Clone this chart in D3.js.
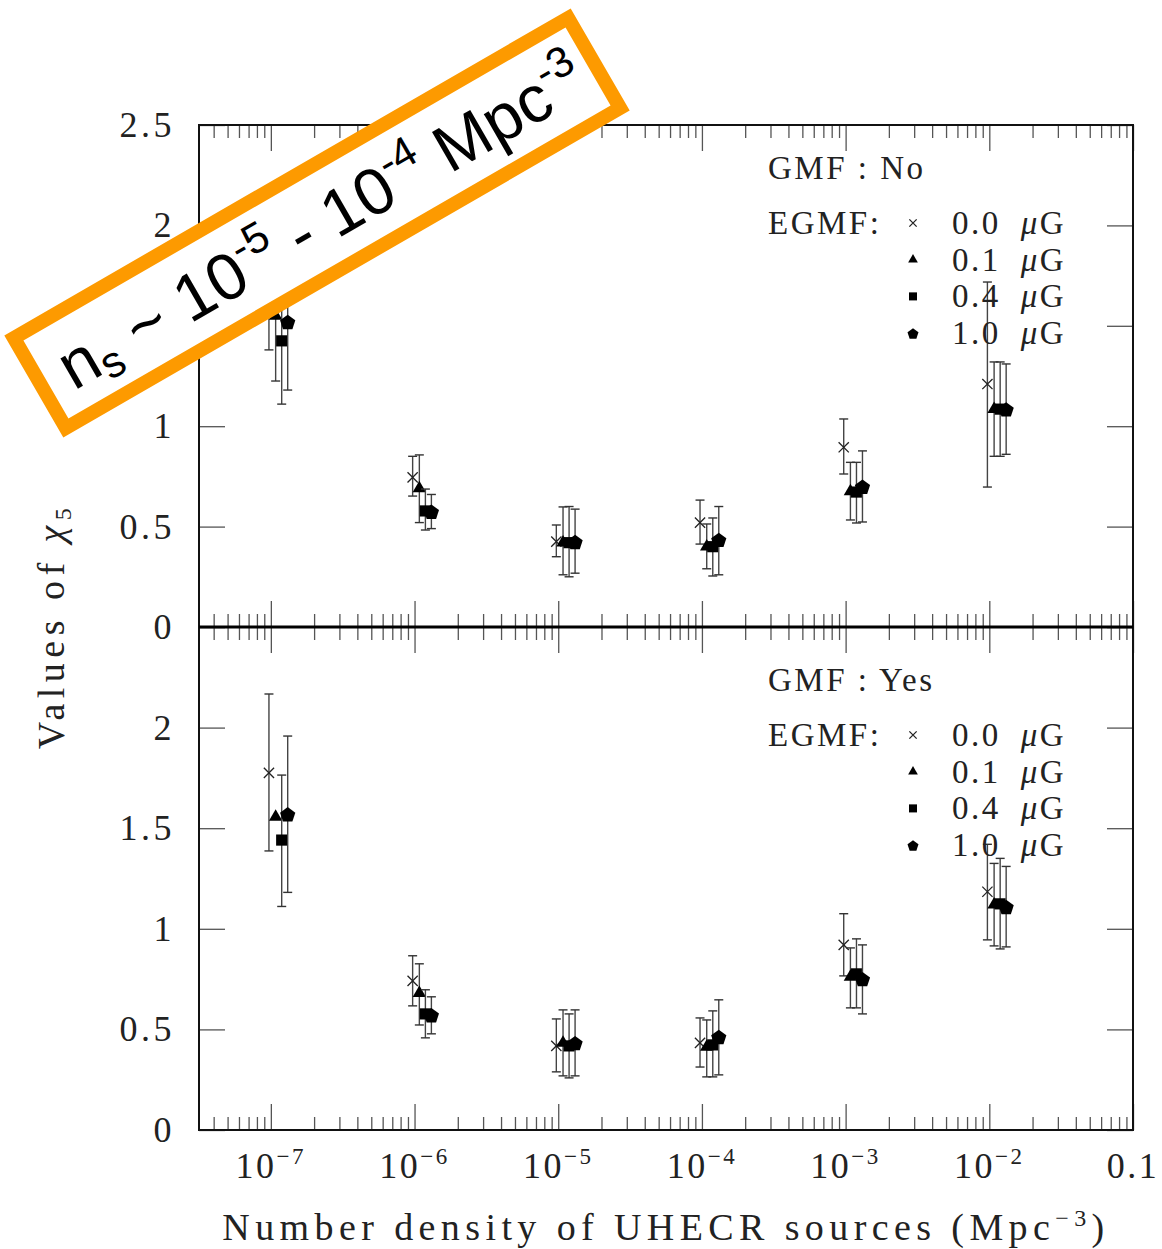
<!DOCTYPE html>
<html>
<head>
<meta charset="utf-8">
<script src="https://cdn.jsdelivr.net/npm/d3@7"></script>
<style>
  html, body { margin: 0; padding: 0; background: #fff; }
  svg { display: block; }
  .serif { font-family: "Liberation Serif", "DejaVu Serif", serif; fill: #222; }
</style>
</head>
<body>
<svg id="chart" width="1162" height="1249"></svg>
<script>
// Source densities (Mpc^-3) for each EGMF series, slightly staggered within a decade
const densB0 = [9.7e-8, 9.7e-7, 9.7e-6, 9.7e-5, 9.7e-4, 9.7e-3];
const densB1 = [1.08e-7, 1.08e-6, 1.08e-5, 1.08e-4, 1.08e-3, 1.08e-2];
const densB4 = [1.19e-7, 1.19e-6, 1.19e-5, 1.19e-4, 1.19e-3, 1.19e-2];
const densB10 = [1.31e-7, 1.31e-6, 1.31e-5, 1.31e-4, 1.31e-3, 1.31e-2];

// GMF: No  — chi_5 values with lower / upper error limits
const noGmfB0 = [1.76, 0.745, 0.425, 0.52, 0.895, 1.21];
const noGmfB0Lo = [1.38, 0.652, 0.35, 0.413, 0.762, 0.697];
const noGmfB0Hi = [2.14, 0.85, 0.508, 0.632, 1.036, 1.718];
const noGmfB1 = [1.55, 0.69, 0.42, 0.40, 0.675, 1.085];
const noGmfB1Lo = [1.225, 0.52, 0.26, 0.29, 0.533, 0.85];
const noGmfB1Hi = [1.875, 0.857, 0.598, 0.513, 0.82, 1.32];
const noGmfB4 = [1.425, 0.578, 0.42, 0.40, 0.672, 1.085];
const noGmfB4Lo = [1.11, 0.483, 0.25, 0.254, 0.518, 0.85];
const noGmfB4Hi = [1.74, 0.687, 0.60, 0.543, 0.82, 1.32];
const noGmfB10 = [1.52, 0.575, 0.425, 0.435, 0.70, 1.085];
const noGmfB10Lo = [1.18, 0.49, 0.268, 0.26, 0.523, 0.86];
const noGmfB10Hi = [1.86, 0.66, 0.587, 0.60, 0.877, 1.31];

// GMF: Yes
const gmfB0 = [1.775, 0.741, 0.418, 0.433, 0.92, 1.184];
const gmfB0Lo = [1.387, 0.617, 0.289, 0.313, 0.766, 0.945];
const gmfB0Hi = [2.167, 0.866, 0.552, 0.557, 1.075, 1.42];
const gmfB1 = [1.556, 0.68, 0.433, 0.413, 0.761, 1.12];
const gmfB1Lo = [null, 0.522, 0.269, 0.264, 0.607, 0.915];
const gmfB1Hi = [null, 0.826, 0.597, 0.547, 0.905, 1.325];
const gmfB4 = [1.441, 0.577, 0.418, 0.423, 0.776, 1.124];
const gmfB4Lo = [1.111, 0.458, 0.259, 0.264, 0.607, 0.90];
const gmfB4Hi = [1.764, 0.697, 0.577, 0.592, 0.95, 1.35];
const gmfB10 = [1.570, 0.572, 0.433, 0.463, 0.751, 1.11];
const gmfB10Lo = [1.181, 0.478, 0.269, 0.274, 0.577, 0.91];
const gmfB10Hi = [1.958, 0.662, 0.597, 0.647, 0.92, 1.31];

// Axis ticks and labels
const xMajorTicks = [1e-7, 1e-6, 1e-5, 1e-4, 1e-3, 1e-2, 1e-1];
const xTickLabels = [["10", "−7"], ["10", "−6"], ["10", "−5"], ["10", "−4"], ["10", "−3"], ["10", "−2"], ["0.1", ""]];
const yTicks = [0, 0.5, 1, 1.5, 2, 2.5];
const yTopLabels = ["0", "0.5", "1", "1.5", "2", "2.5"];
const yBotLabels = ["0", "0.5", "1", "1.5", "2", ""];
const legendValues = ["0.0", "0.1", "0.4", "1.0"];
const legendKinds = ["cross", "triangle", "square", "pentagon"];

const svg = d3.select("#chart");
const L = 199, R = 1133, T = 125, B = 1130, M = 627;

const x = d3.scaleLog().domain([Math.pow(10, -7.5), 0.1]).range([L, R]);
const yTop = d3.scaleLinear().domain([0, 2.5]).range([M, T]);
const yBot = d3.scaleLinear().domain([0, 2.5]).range([B, M]);

// minor ticks: 2..9 × each decade inside the domain
const xMinorTicks = [];
for (let e = -8; e <= -2; e++) {
  for (let m = 2; m <= 9; m++) {
    const v = m * Math.pow(10, e);
    if (v > x.domain()[0] && v < x.domain()[1]) xMinorTicks.push(v);
  }
}

const tickColor = "#555";
function tickAxis(axisFn, scale, values, size, ty, tx) {
  const g = svg.append("g").attr("transform", `translate(${tx || 0},${ty || 0})`)
    .call(axisFn(scale).tickValues(values).tickSize(size).tickFormat(""));
  g.select(".domain").remove();
  g.selectAll(".tick line").attr("stroke", tickColor).attr("stroke-width", 1.3);
  return g;
}

// x ticks: top edge (down), middle line (both), bottom edge (up)
tickAxis(d3.axisBottom, x, xMajorTicks, 26, T);
tickAxis(d3.axisBottom, x, xMinorTicks, 13, T);
tickAxis(d3.axisBottom, x, xMajorTicks, 26, M);
tickAxis(d3.axisBottom, x, xMinorTicks, 13, M);
tickAxis(d3.axisTop, x, xMajorTicks, 26, M);
tickAxis(d3.axisTop, x, xMinorTicks, 13, M);
tickAxis(d3.axisTop, x, xMajorTicks, 26, B);
tickAxis(d3.axisTop, x, xMinorTicks, 13, B);

// y ticks: inward on both sides, both panels
[yTop, yBot].forEach(s => {
  tickAxis(d3.axisRight, s, yTicks, 26, 0, L);
  tickAxis(d3.axisLeft, s, yTicks, 26, 0, R);
});

// frame and panel divider
svg.append("rect").attr("x", L).attr("y", T).attr("width", R - L).attr("height", B - T)
  .attr("fill", "none").attr("stroke", "#111").attr("stroke-width", 2);
svg.append("line").attr("x1", L).attr("x2", R).attr("y1", M).attr("y2", M)
  .attr("stroke", "#000").attr("stroke-width", 3);

// y tick labels
const yLab = svg.append("g").attr("class", "serif").attr("font-size", 36).attr("letter-spacing", 3.5);
yTicks.forEach((v, i) => {
  if (yTopLabels[i]) yLab.append("text").attr("x", 175).attr("y", yTop(v) + 12)
    .attr("text-anchor", "end").text(yTopLabels[i]);
  if (yBotLabels[i] && v > 0 || (v === 0 && yBotLabels[i])) yLab.append("text").attr("x", 175).attr("y", yBot(v) + 12)
    .attr("text-anchor", "end").text(yBotLabels[i]);
});

// x tick labels with superscript exponents
const xLab = svg.append("g").attr("class", "serif");
xMajorTicks.forEach((v, i) => {
  const t = xLab.append("text").attr("x", x(v)).attr("y", 1178).attr("text-anchor", "middle")
    .attr("font-size", 36).attr("letter-spacing", 2.5);
  t.append("tspan").text(xTickLabels[i][0]);
  if (xTickLabels[i][1]) t.append("tspan").attr("font-size", 23).attr("dy", -14).text(xTickLabels[i][1]);
});

// axis titles
const xt = svg.append("text").attr("class", "serif").attr("x", 666).attr("y", 1240)
  .attr("text-anchor", "middle").attr("font-size", 38).attr("letter-spacing", 5.4);
xt.append("tspan").text("Number density of UHECR sources (Mpc");
xt.append("tspan").attr("font-size", 24).attr("dy", -14).text("−3");
xt.append("tspan").attr("dy", 14).text(")");

const yt = svg.append("text").attr("class", "serif")
  .attr("transform", "translate(64,626) rotate(-90)")
  .attr("text-anchor", "middle").attr("font-size", 38).attr("letter-spacing", 5.5);
yt.append("tspan").text("Values of ");
yt.append("tspan").attr("font-style", "italic").text("χ");
yt.append("tspan").attr("font-size", 24).attr("dy", 7).text("5");

// marker shapes
function pentagonPath(r) {
  const pts = d3.range(5).map(k => {
    const a = -Math.PI / 2 + k * 2 * Math.PI / 5;
    return [r * Math.cos(a), r * Math.sin(a)];
  });
  return "M" + pts.map(p => p.join(",")).join("L") + "Z";
}
function drawMarker(g, kind, cx, cy, scale) {
  const k = scale || 1;
  if (kind === "cross") {
    g.append("path").attr("d", d3.symbol(d3.symbolTimes, 70 * k * k)())
      .attr("transform", `translate(${cx},${cy})`)
      .attr("fill", "none").attr("stroke", "#222").attr("stroke-width", 1.3);
  } else if (kind === "triangle") {
    g.append("path").attr("d", d3.symbol(d3.symbolTriangle, 78 * k * k)())
      .attr("transform", `translate(${cx},${cy})`).attr("fill", "#000");
  } else if (kind === "square") {
    g.append("path").attr("d", d3.symbol(d3.symbolSquare, 125 * k * k)())
      .attr("transform", `translate(${cx},${cy})`).attr("fill", "#000");
  } else {
    g.append("path").attr("d", pentagonPath(8 * k))
      .attr("transform", `translate(${cx},${cy + 1})`).attr("fill", "#000");
  }
}

function drawSeries(yScale, dens, vals, lo, hi, kind) {
  const g = svg.append("g");
  dens.forEach((d, i) => {
    const cx = x(d);
    if (lo[i] != null && hi[i] != null) {
      const y1 = yScale(lo[i]), y2 = yScale(hi[i]);
      g.append("line").attr("x1", cx).attr("x2", cx).attr("y1", y1).attr("y2", y2)
        .attr("stroke", "#444").attr("stroke-width", 1.4);
      [y1, y2].forEach(yy => g.append("line").attr("x1", cx - 4.5).attr("x2", cx + 4.5)
        .attr("y1", yy).attr("y2", yy).attr("stroke", "#333").attr("stroke-width", 1.4));
    }
    drawMarker(g, kind, cx, yScale(vals[i]));
  });
}

drawSeries(yTop, densB0, noGmfB0, noGmfB0Lo, noGmfB0Hi, "cross");
drawSeries(yTop, densB1, noGmfB1, noGmfB1Lo, noGmfB1Hi, "triangle");
drawSeries(yTop, densB4, noGmfB4, noGmfB4Lo, noGmfB4Hi, "square");
drawSeries(yTop, densB10, noGmfB10, noGmfB10Lo, noGmfB10Hi, "pentagon");

drawSeries(yBot, densB0, gmfB0, gmfB0Lo, gmfB0Hi, "cross");
drawSeries(yBot, densB1, gmfB1, gmfB1Lo, gmfB1Hi, "triangle");
drawSeries(yBot, densB4, gmfB4, gmfB4Lo, gmfB4Hi, "square");
drawSeries(yBot, densB10, gmfB10, gmfB10Lo, gmfB10Hi, "pentagon");

// legends
function legend(top, title) {
  const g = svg.append("g").attr("class", "serif").attr("font-size", 33).attr("letter-spacing", 2.5);
  g.append("text").attr("x", 768).attr("y", top).text(title);
  g.append("text").attr("x", 768).attr("y", top + 55).text("EGMF:");
  legendValues.forEach((v, i) => {
    const by = top + 55 + i * 36.7;
    drawMarker(g, legendKinds[i], 913, by - 11, 0.72);
    const t = g.append("text").attr("x", 952).attr("y", by);
    t.append("tspan").text(v);
    t.append("tspan").attr("dx", 20).attr("font-style", "italic").text("μ");
    t.append("tspan").text("G");
  });
}
legend(179, "GMF : No");
legend(691, "GMF : Yes");

// highlighted density range callout
const callout = svg.append("g").attr("transform", "translate(317,223) rotate(-30)");
callout.append("rect").attr("x", -320).attr("y", -52).attr("width", 640).attr("height", 104)
  .attr("fill", "#fff").attr("stroke", "#fd9a00").attr("stroke-width", 14);
const ct = callout.append("text").attr("x", 4).attr("y", 24).attr("text-anchor", "middle")
  .attr("font-family", "'Liberation Sans', Arial, sans-serif").attr("font-size", 66).attr("fill", "#000");
ct.append("tspan").text("n");
ct.append("tspan").attr("font-size", 44).attr("dy", 9).text("s");
ct.append("tspan").attr("dy", -9).text(" ~ 10");
ct.append("tspan").attr("font-size", 43).attr("dy", -27).text("-5");
ct.append("tspan").attr("dy", 27).text(" - 10");
ct.append("tspan").attr("font-size", 43).attr("dy", -27).text("-4");
ct.append("tspan").attr("dy", 27).text(" Mpc");
ct.append("tspan").attr("font-size", 43).attr("dy", -27).text("-3");
</script>
</body>
</html>
